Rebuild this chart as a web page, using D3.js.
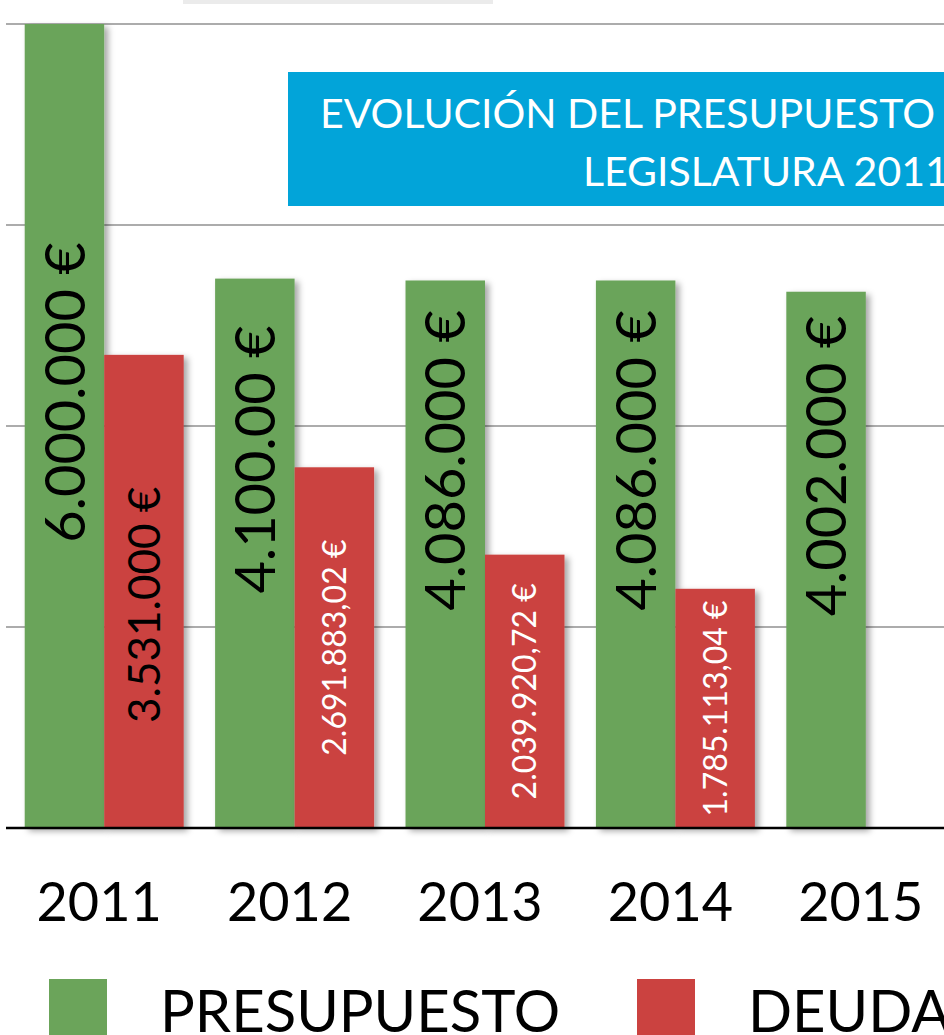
<!DOCTYPE html>
<html>
<head>
<meta charset="utf-8">
<script src="https://cdn.jsdelivr.net/npm/d3@7"></script>
<style>
  html, body { margin: 0; padding: 0; background: #fff; overflow: hidden; }
  svg { display: block; font-family: Lato, "Noto Sans", sans-serif; }
</style>
</head>
<body>
<div class="chart"></div>
<script>
// chart data
var years = ["2011", "2012", "2013", "2014", "2015"];
var presupuesto = [6000000, 4100000, 4086000, 4086000, 4002000];
var deuda = [3531000, 2691883.02, 2039920.72, 1785113.04, null];
var presupuestoLabels = ["6.000.000 €", "4.100.00 €", "4.086.000 €", "4.086.000 €", "4.002.000 €"];
var deudaLabels = ["3.531.000 €", "2.691.883,02 €", "2.039.920,72 €", "1.785.113,04 €", null];
var gridTicks = [0, 1500000, 3000000, 4500000, 6000000];
var series = ["PRESUPUESTO", "DEUDA"];
var titleLines = ["EVOLUCIÓN DEL PRESUPUESTO Y LA DEUDA", "LEGISLATURA 2011-2015"];

var width = 944, height = 1035;
var colors = { PRESUPUESTO: "#6ba45a", DEUDA: "#cb4240" };

var svg = d3.select(".chart").append("svg")
  .attr("width", width)
  .attr("height", height);

var defs = svg.append("defs");
defs.append("filter")
  .attr("id", "shadow")
  .attr("x", "-20%").attr("y", "-5%")
  .attr("width", "150%").attr("height", "115%")
  .append("feDropShadow")
  .attr("dx", 4).attr("dy", 3)
  .attr("stdDeviation", 3)
  .attr("flood-color", "#000")
  .attr("flood-opacity", 0.35);

// scales
var x = d3.scaleBand().domain(years).range([9, 961]).paddingInner(0.165).paddingOuter(0.0825);
var xs = d3.scaleBand().domain(series).range([0, x.bandwidth()]);
var y = d3.scaleLinear().domain([0, 6000000]).range([828, 24]);

// little gray strip at the top
svg.append("rect")
  .attr("x", 183).attr("y", 0)
  .attr("width", 310).attr("height", 4)
  .attr("fill", "#ebebeb");

// gridlines
svg.append("g")
  .selectAll("line")
  .data(gridTicks.filter(d => d > 0))
  .enter().append("line")
  .attr("x1", 6).attr("x2", width)
  .attr("y1", d => y(d)).attr("y2", d => y(d))
  .attr("stroke", "#acacac")
  .attr("stroke-width", 2);

// title box
var title = svg.append("g");
title.append("rect")
  .attr("x", 288).attr("y", 72)
  .attr("width", 800).attr("height", 134)
  .attr("fill", "#02a4d9");
title.selectAll("text")
  .data(titleLines)
  .enter().append("text")
  .attr("x", (d, i) => i === 0 ? 320 : 583)
  .attr("y", (d, i) => i === 0 ? 128 : 186)
  .attr("fill", "#fff")
  .attr("font-size", 41)
  .text(d => d);

// bars
var rows = years.map((yr, i) => ({
  year: yr,
  vals: [
    { key: "PRESUPUESTO", value: presupuesto[i], label: presupuestoLabels[i], i: i },
    { key: "DEUDA", value: deuda[i], label: deudaLabels[i], i: i }
  ].filter(d => d.value != null)
}));

var groups = svg.append("g")
  .selectAll("g")
  .data(rows)
  .enter().append("g")
  .attr("transform", d => "translate(" + x(d.year) + ",0)");

groups.selectAll("rect")
  .data(d => d.vals)
  .enter().append("rect")
  .attr("x", d => xs(d.key))
  .attr("y", d => y(d.value))
  .attr("width", xs.bandwidth())
  .attr("height", d => y(0) - y(d.value))
  .attr("fill", d => colors[d.key])
  .attr("filter", "url(#shadow)");

// rotated value labels
groups.selectAll("text")
  .data(d => d.vals)
  .enter().append("text")
  .attr("transform", d => {
    var cx = xs(d.key) + xs.bandwidth() / 2;
    var cy;
    if (d.key === "PRESUPUESTO") cy = y(Math.min(d.value / 2 + 700000, 3250000));
    else cy = d.i === 0 ? y(d.value / 2 - 100000) : y(d.value / 2);
    return "translate(" + cx + "," + cy + ") rotate(-90)";
  })
  .attr("text-anchor", "middle")
  .attr("dy", "0.36em")
  .attr("font-size", d => d.key === "PRESUPUESTO" ? 56 : (d.i === 0 ? 44 : 32))
  .attr("fill", d => (d.key === "PRESUPUESTO" || d.i === 0) ? "#000" : "#fff")
  .text(d => d.label);

// baseline
svg.append("line")
  .attr("x1", 6).attr("x2", width)
  .attr("y1", y(0)).attr("y2", y(0))
  .attr("stroke", "#000")
  .attr("stroke-width", 2.5);

// year labels
svg.append("g")
  .selectAll("text")
  .data(years)
  .enter().append("text")
  .attr("x", d => x(d) + x.bandwidth() / 2 - 5)
  .attr("y", 921)
  .attr("text-anchor", "middle")
  .attr("font-size", 54)
  .attr("fill", "#000")
  .text(d => d);

// legend
var legend = svg.append("g")
  .selectAll("g")
  .data(series)
  .enter().append("g")
  .attr("transform", (d, i) => "translate(" + (i === 0 ? 49 : 637) + ",979)");
legend.append("rect")
  .attr("width", 58).attr("height", 60)
  .attr("fill", d => colors[d]);
legend.append("text")
  .attr("x", 111)
  .attr("y", 53)
  .attr("font-size", 58)
  .attr("fill", "#000")
  .text(d => d);
</script>
</body>
</html>
